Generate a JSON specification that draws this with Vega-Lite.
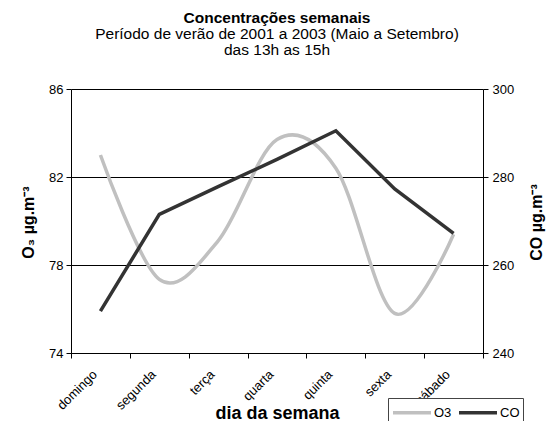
{
  "$schema": "https://vega.github.io/schema/vega-lite/v6.json",
  "width": 412,
  "height": 264,
  "autosize": "none",
  "padding": {"left": 71, "top": 89, "right": 68, "bottom": 68},
  "background": "white",
  "config": {"font": "Liberation Sans", "view": {"stroke": null}},
  "title": {
    "text": "Concentrações semanais",
    "subtitle": ["Período de verão de 2001 a 2003 (Maio a Setembro)", "das 13h as 15h"],
    "fontSize": 15.5,
    "fontWeight": "bold",
    "color": "black",
    "subtitleFontSize": 15.5,
    "subtitleColor": "black",
    "subtitlePadding": 0,
    "subtitleLineHeight": 16,
    "anchor": "middle",
    "offset": 25
  },
  "data": {
    "values": [
      {"dia": "domingo", "O3": 83.0, "CO": 249.5},
      {"dia": "segunda", "O3": 77.35, "CO": 271.5},
      {"dia": "terça", "O3": 79.1, "CO": 277.8},
      {"dia": "quarta", "O3": 83.7, "CO": 284.0},
      {"dia": "quinta", "O3": 82.4, "CO": 290.5},
      {"dia": "sexta", "O3": 75.8, "CO": 277.3},
      {"dia": "sábado", "O3": 79.4, "CO": 267.2}
    ]
  },
  "encoding": {
    "x": {
      "field": "dia",
      "type": "nominal",
      "sort": null,
      "bandPosition": 0.5,
      "scale": {"type": "band", "paddingInner": 0, "paddingOuter": 0},
      "axis": {
        "tickBand": "extent",
        "labelAngle": -45,
        "labelAlign": "right",
        "labelBaseline": "middle",
        "labelFontSize": 13,
        "labelColor": "black",
        "labelPadding": 14,
        "labelOffset": -6,
        "domainColor": "black",
        "tickColor": "black",
        "tickSize": 5,
        "grid": false,
        "title": "dia da semana",
        "titleFontSize": 18,
        "titleFontWeight": "bold",
        "titleColor": "black",
        "titleX": 206,
        "titleY": 65,
        "titleBaseline": "alphabetic",
        "titleAlign": "center"
      }
    },
    "color": {
      "scale": {"domain": ["O3", "CO"], "range": ["#c0c0c0", "#333333"]},
      "legend": {
        "orient": "none",
        "legendX": 317,
        "legendY": 309,
        "direction": "horizontal",
        "title": null,
        "symbolType": "M-1,0H3",
        "symbolSize": 361,
        "symbolStrokeWidth": 3.5,
        "strokeColor": "#444444",
        "fillColor": "white",
        "padding": 3,
        "labelFontSize": 13,
        "labelColor": "black",
        "labelOffset": 20,
        "columnPadding": 0
      }
    }
  },
  "layer": [
    {
      "mark": {"type": "line", "interpolate": "cardinal", "strokeWidth": 3.5},
      "encoding": {
        "y": {
          "field": "O3",
          "type": "quantitative",
          "scale": {"domain": [74, 86], "nice": false, "zero": false},
          "axis": {
            "values": [74, 78, 82, 86],
            "grid": true,
            "gridColor": "black",
            "gridWidth": 1,
            "gridOpacity": 1,
            "domainColor": "black",
            "tickColor": "black",
            "tickSize": 5,
            "labelFontSize": 13,
            "labelColor": "black",
            "labelPadding": 3,
            "title": "O₃ µg.m⁻³",
            "titleFontSize": 16,
            "titleFontWeight": "bold",
            "titleColor": "black",
            "titleAngle": 270,
            "titleX": -43,
            "titleY": 133,
            "titleBaseline": "middle",
            "titleAlign": "center"
          }
        },
        "color": {"datum": "O3"}
      }
    },
    {
      "mark": {"type": "line", "strokeWidth": 3.5},
      "encoding": {
        "y": {
          "field": "CO",
          "type": "quantitative",
          "scale": {"domain": [240, 300], "nice": false, "zero": false},
          "axis": {
            "orient": "right",
            "values": [240, 260, 280, 300],
            "grid": false,
            "domainColor": "black",
            "tickColor": "black",
            "tickSize": 5,
            "labelFontSize": 13,
            "labelColor": "black",
            "labelPadding": 4,
            "title": "CO µg.m⁻³",
            "titleFontSize": 16,
            "titleFontWeight": "bold",
            "titleColor": "black",
            "titleAngle": 270,
            "titleX": 53,
            "titleY": 133,
            "titleBaseline": "middle",
            "titleAlign": "center"
          }
        },
        "color": {"datum": "CO"}
      }
    }
  ],
  "resolve": {"scale": {"y": "independent"}}
}
